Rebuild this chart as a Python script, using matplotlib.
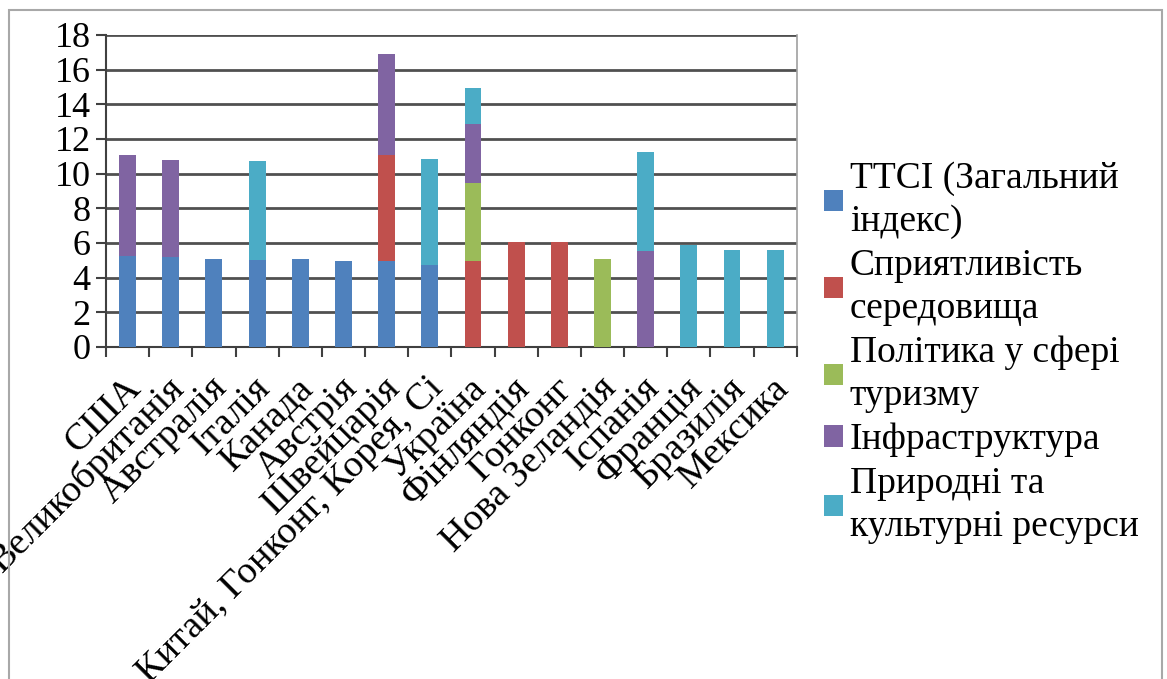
import numpy as np
import matplotlib.pyplot as plt
import matplotlib.transforms as mtransforms
from matplotlib.patches import Rectangle

plt.rcParams['font.family'] = ['Liberation Serif', 'DejaVu Serif']

countries = ['США', 'Великобританія', 'Австралія', 'Італія', 'Канада', 'Австрія',
             'Швейцарія', 'Китай, Гонконг, Корея, Сі', 'Україна', 'Фінляндія',
             'Гонконг', 'Нова Зеландія', 'Іспанія', 'Франція', 'Бразилія', 'Мексика']

series_names = ['ТТСІ (Загальний\nіндекс)', 'Сприятливість\nсередовища',
                'Політика у сфері\nтуризму', 'Інфраструктура',
                'Природні та\nкультурні ресурси']

ttci = [5.26, 5.17, 5.07, 5.03, 5.07, 4.98, 4.94, 4.74, 0, 0, 0, 0, 0, 0, 0, 0]
environment = [0, 0, 0, 0, 0, 0, 6.11, 0, 4.94, 6.03, 6.03, 0, 0, 0, 0, 0]
policy = [0, 0, 0, 0, 0, 0, 0, 0, 4.53, 0, 0, 5.07, 0, 0, 0, 0]
infrastructure = [5.79, 5.59, 0, 0, 0, 0, 5.83, 0, 3.38, 0, 0, 0, 5.51, 0, 0, 0]
resources = [0, 0, 0, 5.69, 0, 0, 0, 6.09, 2.11, 0, 0, 0, 5.76, 5.86, 5.61, 5.61]

colors = ['#4F81BD', '#C0504D', '#9BBB59', '#8064A2', '#4BACC6']

fig = plt.figure(figsize=(11.67, 6.79), dpi=100)
ax = fig.add_axes([0.0908, 0.489, 0.592, 0.4595])

x = np.arange(len(countries))
bottom = np.zeros(len(countries))
for vals, name, c in zip([ttci, environment, policy, infrastructure, resources],
                         series_names, colors):
    vals = np.array(vals)
    ax.bar(x, vals, width=0.39, bottom=bottom, color=c, label=name, zorder=3)
    bottom += vals

ax.set_xlim(-0.5, len(countries) - 0.5)
ax.set_ylim(0, 18)
ax.set_yticks(np.arange(0, 19, 2))
ax.yaxis.grid(True, color='#505050', linewidth=2.0, zorder=0)
ax.set_axisbelow(True)

# ticks sit between the categories, labels at the centres
ax.set_xticks(np.arange(-0.5, len(countries)), minor=False)
ax.set_xticklabels([])
ax.set_xticks(x, minor=True)
ax.set_xticklabels(countries, minor=True, rotation=45, ha='right',
                   rotation_mode='anchor', fontsize=27.5)
ax.tick_params(axis='x', which='minor', length=0, pad=17)
ax.tick_params(axis='x', which='major', length=7, width=1.5, color='#404040')
ax.tick_params(axis='y', length=7, width=1.5, color='#404040', labelsize=26, pad=4)

shift = mtransforms.ScaledTranslation(-4 / 100, 0, fig.dpi_scale_trans)
for lbl in ax.get_xticklabels(minor=True):
    lbl.set_transform(lbl.get_transform() + shift)

ax.spines['top'].set_visible(False)
ax.spines['right'].set_color('#a0a0a0')
ax.spines['right'].set_linewidth(1.2)
for side in ['left', 'bottom']:
    ax.spines[side].set_color('#404040')
    ax.spines[side].set_linewidth(1.5)

leg = fig.legend(loc='upper left', bbox_to_anchor=(0.706, 0.762), frameon=False,
                 fontsize=27, handlelength=0.5, handleheight=0.5,
                 handletextpad=0.19, labelspacing=0.26, borderaxespad=0,
                 borderpad=0)
for t in leg.get_texts():
    t.set_linespacing(1.31)

# outer chart frame
fig.patches.append(Rectangle((9 / 1167, -0.1), 1153 / 1167, 1.1 - 10 / 679,
                             transform=fig.transFigure, fill=False,
                             edgecolor='#a8a8a8', linewidth=1.5))

fig.savefig('out.png', dpi=100)
